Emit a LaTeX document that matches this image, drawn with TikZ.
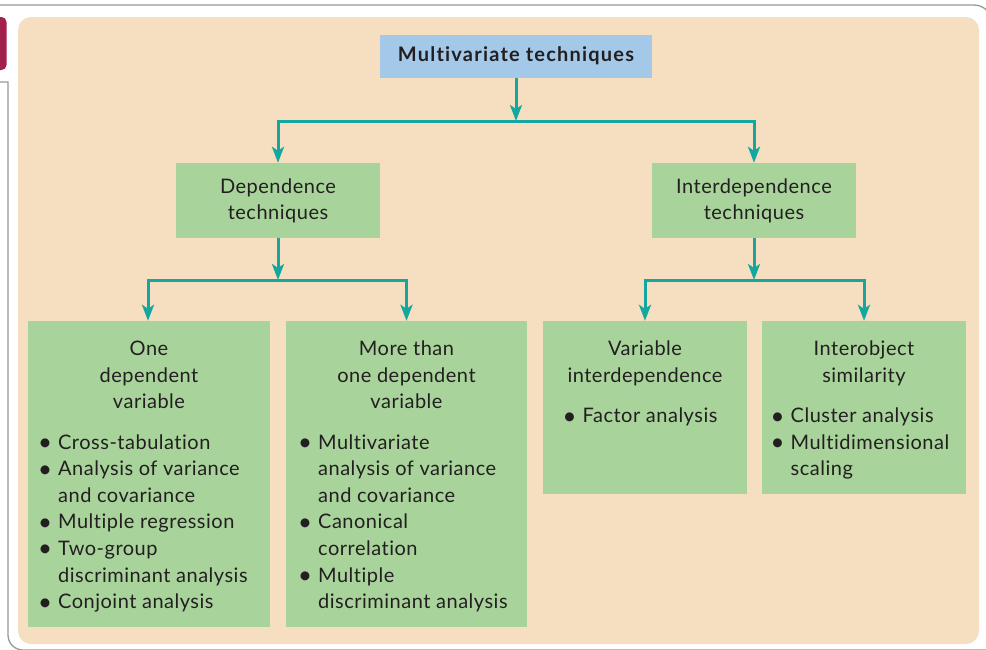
\documentclass[tikz,border=0pt]{standalone}
\usepackage{fontspec}
\setmainfont{Lato}[LetterSpace=2.5,Ligatures=NoCommon]
\newfontfamily\titlefont{Lato}[LetterSpace=6,Ligatures=NoCommon]
\usetikzlibrary{arrows.meta}
\definecolor{beige}{HTML}{F5DFC0}
\definecolor{boxgreen}{HTML}{A8D39B}
\definecolor{boxblue}{HTML}{A3C8E8}
\definecolor{arrowteal}{HTML}{14A7A0}
\definecolor{ink}{HTML}{231F20}
\definecolor{tabmaroon}{HTML}{A3204A}
\definecolor{framegray}{HTML}{9A9A92}
\newcommand{\bl}[1]{\makebox[17.5pt][l]{\hspace*{-2.5pt}\raisebox{-1.5pt}{\fontsize{24}{24}\selectfont\textbullet}}#1}
\newcommand{\cl}[1]{\hspace*{17.5pt}#1}
\tikzset{
  txt/.style={font=\fontsize{20}{26.6}\selectfont, text=ink, inner sep=0pt},
  hdr/.style={txt, align=center, anchor=base},
  lst/.style={txt, align=left, anchor=base west},
  greenbox/.style={fill=boxgreen, draw=none, inner sep=0pt},
  conn/.style={draw=arrowteal, line width=3pt},
  arr/.style={conn, -{Stealth[length=16pt,width=12pt,inset=4pt]}},
  frame/.style={draw=framegray, line width=1.3pt}
}
\begin{document}
\begin{tikzpicture}[x=1pt,y=-1pt]
\useasboundingbox (0,0) rectangle (986,649);
\clip (0,0) rectangle (986,649);
% outer frame
\draw[frame, rounded corners=18pt] (0,5) -- (992,5) -- (992,660);
\draw[frame] (0,82) -- (8,82) -- (8,600) [rounded corners=15pt] -- (8,650) -- (990,650);
\fill[tabmaroon, rounded corners=5pt] (-10,17) rectangle (6.5,70);
% panel
\fill[beige, rounded corners=13pt] (18,17) rectangle (979,644);
% boxes
\node[fill=boxblue, inner sep=0pt, minimum width=272pt, minimum height=43pt] (title) at (516,56.5) {};
\node[greenbox, minimum width=204pt, minimum height=75pt] (dep) at (278,200.5) {};
\node[greenbox, minimum width=204pt, minimum height=75pt] (inter) at (754,200.5) {};
\node[greenbox, minimum width=242pt, minimum height=306pt] (b1) at (149,474) {};
\node[greenbox, minimum width=241pt, minimum height=306pt] (b2) at (406.5,474) {};
\node[greenbox, minimum width=204pt, minimum height=173pt] (b3) at (645,407.5) {};
\node[greenbox, minimum width=204pt, minimum height=173pt] (b4) at (864,407.5) {};
% texts
\node[txt, anchor=base, font=\titlefont\fontsize{20}{26.6}\selectfont\bfseries] (ttitle) at (516,61.7) {Multivariate techniques};
\node[hdr] (tdep) at (278,219.7) {Dependence\\techniques};
\node[hdr] (tinter) at (754,219.7) {Interdependence\\techniques};
\node[hdr] (h1) at (149,408.9) {One\\dependent\\variable};
\node[lst] (l1) at (40.5,608.6) {\bl{Cross-tabulation}\\\bl{Analysis of variance}\\\cl{and covariance}\\\bl{Multiple regression}\\\bl{Two-group}\\\cl{discriminant analysis}\\\bl{Conjoint analysis}};
\node[hdr] (h2) at (406.5,408.9) {More than\\one dependent\\variable};
\node[lst] (l2) at (300.5,608.6) {\bl{Multivariate}\\\cl{analysis of variance}\\\cl{and covariance}\\\bl{Canonical}\\\cl{correlation}\\\bl{Multiple}\\\cl{discriminant analysis}};
\node[hdr] (h3) at (645,382.3) {Variable\\interdependence};
\node[lst] (l3) at (565,422.7) {\bl{Factor analysis}};
\node[hdr] (h4) at (864,382.3) {Interobject\\similarity};
\node[lst] (l4) at (773,475.9) {\bl{Cluster analysis}\\\bl{Multidimensional}\\\cl{scaling}};
% connectors
\coordinate (j1) at (516,121);
\coordinate (j2) at (278,280);
\coordinate (j3) at (754,280);
\draw[arr] (title.south) -- (j1);
\draw[arr] (j1) -| (dep.north);
\draw[arr] (j1) -| (inter.north);
\draw[arr] (dep.south) -- (j2);
\draw[arr] (j2) -| ([xshift=-1pt]b1.north);
\draw[arr] (j2) -| (b2.north);
\draw[arr] (inter.south) -- (j3);
\draw[arr] (j3) -| (b3.north);
\draw[arr] (j3) -| (b4.north);
\end{tikzpicture}
\end{document}
